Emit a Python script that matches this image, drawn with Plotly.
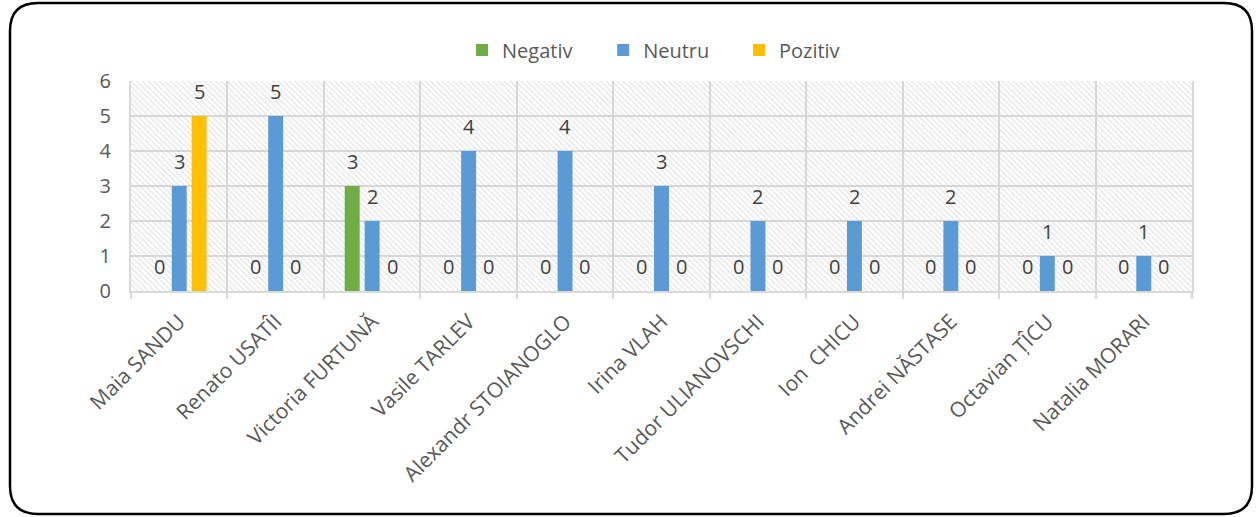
import plotly.graph_objects as go

candidates = ["Maia SANDU", "Renato USATÎI", "Victoria FURTUNĂ", "Vasile TARLEV",
              "Alexandr STOIANOGLO", "Irina VLAH", "Tudor ULIANOVSCHI", "Ion  CHICU",
              "Andrei NĂSTASE", "Octavian ȚÎCU", "Natalia MORARI"]
negativ = [0, 0, 3, 0, 0, 0, 0, 0, 0, 0, 0]
neutru = [3, 5, 2, 4, 4, 3, 2, 2, 2, 1, 1]
pozitiv = [5, 0, 0, 0, 0, 0, 0, 0, 0, 0, 0]
y_ticks = [0, 1, 2, 3, 4, 5, 6]

W, H = 1258, 517
ML, MR, MT, MB = 131, 66, 81, 226
FONT = "Open Sans"
TXT = "#404040"
BARGAP, GROUPGAP = 0.38, 0.25

fig = go.Figure()

# hatched plot background, one cell per category on the base axis
fig.add_trace(go.Bar(
    x=candidates, y=[max(y_ticks)] * len(candidates), xaxis="x",
    width=1, showlegend=False, hoverinfo="skip",
    marker=dict(color="rgba(0,0,0,0)", line=dict(width=0),
                pattern=dict(shape="\\", fgcolor="#cccccc", bgcolor="rgba(0,0,0,0)",
                             size=4, solidity=0.35)),
))

# data series on an overlaid axis so they sit above the hatching;
# each series gets its own legend box so the entries can be spaced freely
series = [("Negativ", negativ, "#70ad47", "legend"),
          ("Neutru", neutru, "#5b9bd5", "legend2"),
          ("Pozitiv", pozitiv, "#ffc000", "legend3")]
for name, vals, col, leg in series:
    fig.add_trace(go.Bar(
        x=candidates, y=vals, name=name, xaxis="x2", legend=leg,
        marker=dict(color=col, line=dict(width=0)),
    ))

# value labels above each bar, shifted to the bar's slot inside its group
plot_w = W - ML - MR
slot_px = plot_w / len(candidates) * (1 - BARGAP) / len(series)
annotations = []
for i, (name, vals, col, leg) in enumerate(series):
    for cat, v in zip(candidates, vals):
        annotations.append(dict(
            x=cat, y=v, xref="x2", yref="y", text=str(v), showarrow=False,
            xanchor="center", yanchor="bottom", yshift=9,
            xshift=(i - (len(series) - 1) / 2) * slot_px,
            font=dict(family=FONT, size=20, color=TXT),
        ))

# rounded frame around the whole chart (pixel coords relative to plot origin)
def px(xp, yp):
    return f"{xp - ML},{(H - MB) - yp}"

x0, x1, y0, y1, r = 10, 1252, 3, 514, 28
path = (f"M {px(x0 + r, y0)} L {px(x1 - r, y0)} Q {px(x1, y0)} {px(x1, y0 + r)} "
        f"L {px(x1, y1 - r)} Q {px(x1, y1)} {px(x1 - r, y1)} "
        f"L {px(x0 + r, y1)} Q {px(x0, y1)} {px(x0, y1 - r)} "
        f"L {px(x0, y0 + r)} Q {px(x0, y0)} {px(x0 + r, y0)} Z")

legend_style = dict(orientation="h", xanchor="left", y=1.148, yanchor="middle",
                    font=dict(family=FONT, size=20, color="#595959"),
                    itemwidth=30, bgcolor="rgba(0,0,0,0)")

fig.update_layout(
    width=W, height=H, margin=dict(l=ML, r=MR, t=MT, b=MB),
    paper_bgcolor="white", plot_bgcolor="white",
    barmode="group", bargap=BARGAP, bargroupgap=GROUPGAP,
    font=dict(family=FONT, color=TXT),
    legend=dict(x=0.312, **legend_style),
    legend2=dict(x=0.445, **legend_style),
    legend3=dict(x=0.573, **legend_style),
    annotations=annotations,
    xaxis=dict(type="category", tickangle=-45, showgrid=True, gridcolor="#d9d9d9",
               gridwidth=2, tickson="boundaries", ticks="outside", ticklen=6,
               tickcolor="#d9d9d9", tickwidth=2, ticklabelstandoff=8,
               showline=True, linecolor="#d9d9d9", linewidth=2,
               tickfont=dict(family=FONT, size=21, color="#595959")),
    xaxis2=dict(type="category", overlaying="x", visible=False, matches="x"),
    yaxis=dict(range=[0, 6], tickvals=y_ticks, showgrid=True, gridcolor="#d9d9d9",
               gridwidth=2, zeroline=False, showline=True, linecolor="#d9d9d9",
               linewidth=2, mirror=True, ticks="", ticklabelstandoff=14,
               tickfont=dict(family=FONT, size=20, color="#595959")),
    shapes=[dict(type="path", xref="paper", yref="paper", xsizemode="pixel",
                 ysizemode="pixel", xanchor=0, yanchor=0, path=path,
                 line=dict(color="black", width=2.5), layer="above")],
)

fig.write_html("out.html")
